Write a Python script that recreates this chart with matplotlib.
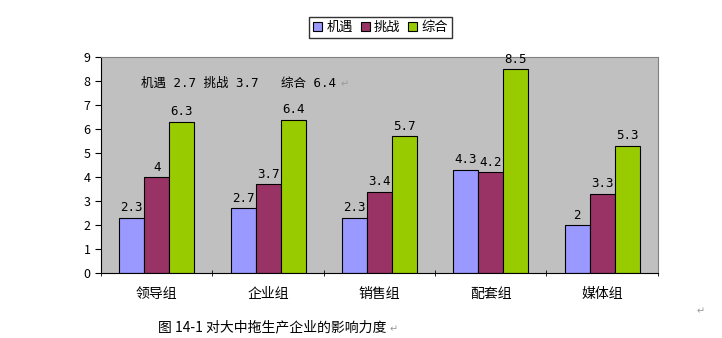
import matplotlib.pyplot as plt
import numpy as np

plt.rcParams['font.family'] = ['Noto Sans CJK SC', 'DejaVu Sans']

categories = ["领导组", "企业组", "销售组", "配套组", "媒体组"]
series_names = ["机遇", "挑战", "综合"]
jiyu = [2.3, 2.7, 2.3, 4.3, 2.0]
tiaozhan = [4.0, 3.7, 3.4, 4.2, 3.3]
zonghe = [6.3, 6.4, 5.7, 8.5, 5.3]
colors = ["#9999FF", "#993366", "#99CC00"]


def fmt(v):
    return f"{v:g}"


fig = plt.figure(figsize=(7.22, 3.38), dpi=100)
ax = fig.add_axes([0.140, 0.192, 0.771, 0.639])
ax.set_facecolor("#C0C0C0")

x = np.arange(len(categories))
w = 0.225
for i, (vals, c) in enumerate(zip([jiyu, tiaozhan, zonghe], colors)):
    pos = x + (i - 1) * w
    ax.bar(pos, vals, width=w, color=c, edgecolor="black", linewidth=0.8,
           label=series_names[i], zorder=2)
    for p, v in zip(pos, vals):
        ax.text(p, v + 0.15, fmt(v), ha="center", va="bottom", fontsize=9,
                family=["DejaVu Sans Mono"])

ax.set_xlim(-0.5, len(categories) - 0.5)
ax.set_ylim(0, 9)
ax.set_yticks(range(10))
ax.set_xticks(x)
ax.set_xticklabels(categories, fontsize=10)
ax.tick_params(axis="x", length=0, pad=10)
ax.set_xticks(np.arange(-0.5, len(categories), 1), minor=True)
ax.tick_params(axis="x", which="minor", length=4, direction="inout")
ax.tick_params(axis="y", length=4, labelsize=9, direction="out")
for s in ["top", "right"]:
    ax.spines[s].set_color("#808080")
for s in ["left", "bottom"]:
    ax.spines[s].set_color("black")

ax.text(0.072, 0.88, "机遇 2.7 挑战 3.7   综合 6.4", transform=ax.transAxes,
        fontsize=9, va="center", family=["DejaVu Sans Mono", "Noto Sans CJK SC"])
ax.text(0.43, 0.875, "↵", transform=ax.transAxes, fontsize=7, color="#999999",
        va="center", family=["DejaVu Sans"])

leg = fig.legend(loc="upper center", bbox_to_anchor=(0.527, 0.95), ncol=3,
                 fontsize=9.5, frameon=True, fancybox=False, edgecolor="black",
                 handlelength=0.7, handleheight=0.7, handletextpad=0.3,
                 columnspacing=0.6, borderpad=0.3, borderaxespad=0)
leg.get_frame().set_linewidth(1.0)

fig.text(0.219, 0.01, "图 14-1 对大中拖生产企业的影响力度", fontsize=10, va="bottom")
fig.text(0.54, 0.01, "↵", fontsize=7, color="#999999", va="bottom",
         family=["DejaVu Sans"])
fig.text(0.965, 0.065, "↵", fontsize=7, color="#999999", va="bottom",
         family=["DejaVu Sans"])

fig.savefig("out.png", dpi=100)
